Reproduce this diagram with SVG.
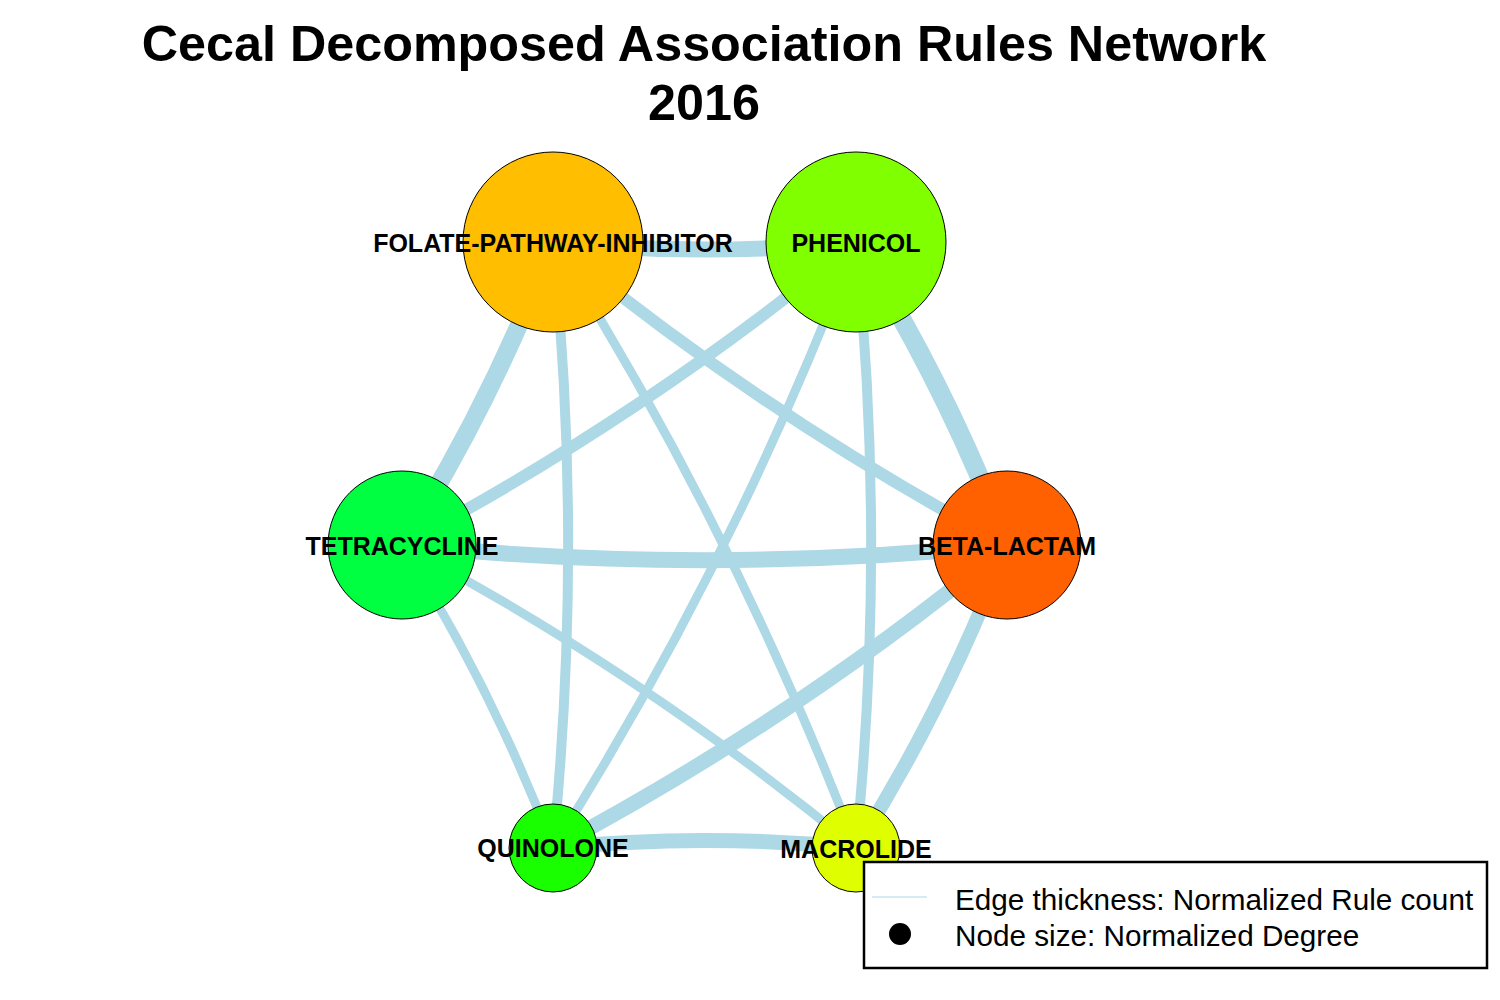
<svg xmlns="http://www.w3.org/2000/svg" width="1500" height="1000" viewBox="0 0 1500 1000">
<style>
.e{fill:none;stroke:#ADD8E6;stroke-linecap:butt}
.n{stroke:#000;stroke-width:1}
.lb{font-family:"Liberation Sans",Arial,sans-serif;font-weight:bold;font-size:25px;text-anchor:middle;fill:#000}
.t{font-family:"Liberation Sans",Arial,sans-serif;font-weight:bold;font-size:50.3px;text-anchor:middle;fill:#000}
.lg{font-family:"Liberation Sans",Arial,sans-serif;font-size:29.7px;fill:#000}
</style>
<rect width="1500" height="1000" fill="#fff"/>
<g id="title">
<text class="t" x="704" y="61">Cecal Decomposed Association Rules Network</text>
<text class="t" x="704" y="120">2016</text>
</g>
<g id="edges">
<path class="e" stroke-width="19" d="M856,242 Q946.7,386 1007,545"/>
<path class="e" stroke-width="16" d="M856,242 Q704.5,257.2 553,242"/>
<path class="e" stroke-width="12" d="M856,242 Q644.2,416.2 402,545"/>
<path class="e" stroke-width="9" d="M856,242 Q734.8,560.2 553,848"/>
<path class="e" stroke-width="10" d="M856,242 Q886.3,545 856,848"/>
<path class="e" stroke-width="12" d="M1007,545 Q764.9,416.2 553,242"/>
<path class="e" stroke-width="16" d="M1007,545 Q704.5,575.3 402,545"/>
<path class="e" stroke-width="15" d="M1007,545 Q795.2,719.2 553,848"/>
<path class="e" stroke-width="14" d="M1007,545 Q946.7,704.1 856,848"/>
<path class="e" stroke-width="18" d="M553,242 Q492.7,401.1 402,545"/>
<path class="e" stroke-width="10" d="M553,242 Q583.3,545 553,848"/>
<path class="e" stroke-width="9" d="M553,242 Q734.8,529.9 856,848"/>
<path class="e" stroke-width="9" d="M402,545 Q492.7,689 553,848"/>
<path class="e" stroke-width="9" d="M402,545 Q644.2,673.8 856,848"/>
<path class="e" stroke-width="15" d="M553,848 Q704.5,832.9 856,848"/>
</g>
<g id="node-folate"><circle class="n" cx="553" cy="242" r="90" fill="#FFBF00"/></g>
<g id="node-phenicol"><circle class="n" cx="856" cy="242" r="90" fill="#80FF00"/></g>
<g id="node-tetracycline"><circle class="n" cx="402" cy="545" r="74" fill="#00FF40"/></g>
<g id="node-betalactam"><circle class="n" cx="1007" cy="545" r="74" fill="#FF6000"/></g>
<g id="node-quinolone"><circle class="n" cx="553" cy="848" r="44" fill="#1AFF00"/></g>
<g id="node-macrolide"><circle class="n" cx="856" cy="848" r="44" fill="#DFFF00"/></g>
<g id="labels">
<text class="lb" x="553" y="252">FOLATE-PATHWAY-INHIBITOR</text>
<text class="lb" x="856" y="252">PHENICOL</text>
<text class="lb" x="402" y="555">TETRACYCLINE</text>
<text class="lb" x="1007" y="555">BETA-LACTAM</text>
<text class="lb" x="553" y="857">QUINOLONE</text>
<text class="lb" x="856" y="858">MACROLIDE</text>
</g>
<g id="legend">
<rect x="864" y="862" width="623" height="106" fill="#fff" stroke="#000" stroke-width="2.5"/>
<line x1="872" y1="897" x2="927" y2="897" stroke="#ADD8E6" stroke-width="1"/>
<circle cx="900" cy="934" r="11" fill="#000"/>
<text class="lg" x="955" y="910">Edge thickness: Normalized Rule count</text>
<text class="lg" x="955" y="946">Node size: Normalized Degree</text>
</g>
</svg>
